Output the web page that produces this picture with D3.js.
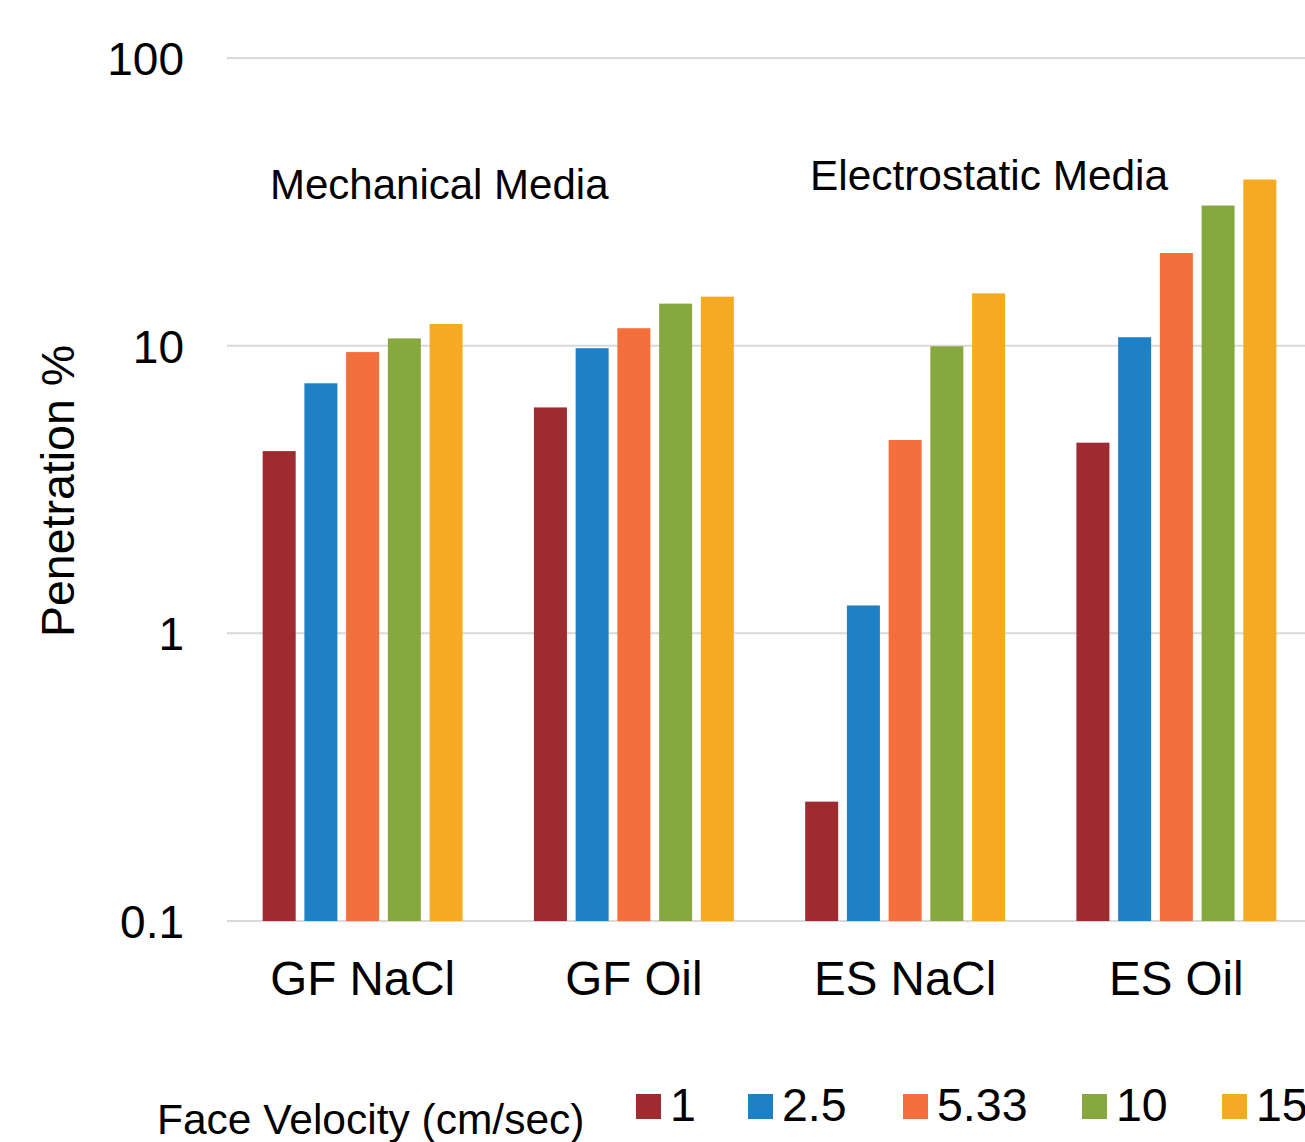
<!DOCTYPE html>
<html>
<head>
<meta charset="utf-8">
<script src="https://cdn.jsdelivr.net/npm/d3@7"></script>
<style>
  html, body { margin: 0; padding: 0; background: #fff; overflow: hidden; }
  svg { display: block; font-family: "Liberation Sans", Arial, sans-serif; }
</style>
</head>
<body>
<svg id="chart" width="1305" height="1142"></svg>
<script>
// Filter media groups and test velocities
const categories = ["GF NaCl", "GF Oil", "ES NaCl", "ES Oil"];
const velocities = ["1", "2.5", "5.33", "10", "15"];
const colors = ["#9e2b30", "#1e80c5", "#f36f3c", "#87a83f", "#f6aa23"];

// Penetration % per velocity, one value per category
const v1    = [4.3, 6.1, 0.26, 4.6];
const v2_5  = [7.4, 9.8, 1.25, 10.7];
const v5_33 = [9.5, 11.5, 4.7, 21];
const v10   = [10.6, 14.0, 9.95, 30.7];
const v15   = [11.9, 14.8, 15.2, 37.8];
const seriesValues = [v1, v2_5, v5_33, v10, v15];

const yTicks = [0.1, 1, 10, 100];
const yTickLabels = ["0.1", "1", "10", "100"];
const groupNotes = [
  { text: "Mechanical Media", at: "GF NaCl" },
  { text: "Electrostatic Media", at: "ES NaCl" }
];
const legendTitle = "Face Velocity (cm/sec)";
const yTitle = "Penetration %";

const svg = d3.select("#chart");

const plot = { left: 227, right: 1312, top: 58, bottom: 921 };

const y = d3.scaleLog().domain([0.1, 100]).range([plot.bottom, plot.top]);

const x0 = d3.scaleBand()
  .domain(categories)
  .range([plot.left, plot.right])
  .paddingInner(0.263)
  .paddingOuter(0.1315);

const x1 = d3.scaleBand()
  .domain(velocities)
  .range([0, x0.bandwidth()])
  .paddingInner(0.209)
  .paddingOuter(0);

const color = d3.scaleOrdinal().domain(velocities).range(colors);

// Horizontal gridlines
svg.append("g")
  .selectAll("line")
  .data(yTicks)
  .join("line")
  .attr("x1", plot.left)
  .attr("x2", plot.right)
  .attr("y1", d => y(d))
  .attr("y2", d => y(d))
  .attr("stroke", "#d9d9d9")
  .attr("stroke-width", 2);

// Y axis tick labels
const yAxis = d3.axisLeft(y)
  .tickValues(yTicks)
  .tickFormat((d, i) => yTickLabels[i])
  .tickSize(0)
  .tickPadding(0);
const yG = svg.append("g")
  .attr("transform", `translate(184,0)`)
  .call(yAxis);
yG.select(".domain").remove();
yG.selectAll("text")
  .attr("font-size", 46)
  .attr("font-family", "Liberation Sans, Arial, sans-serif")
  .attr("fill", "#000")
  .attr("dy", "0.36em");

// Bars
const rows = categories.map((c, ci) => ({
  cat: c,
  vals: velocities.map((v, vi) => ({ vel: v, value: seriesValues[vi][ci] }))
}));

svg.append("g")
  .selectAll("g")
  .data(rows)
  .join("g")
  .attr("transform", d => `translate(${x0(d.cat)},0)`)
  .selectAll("rect")
  .data(d => d.vals)
  .join("rect")
  .attr("x", d => x1(d.vel))
  .attr("width", x1.bandwidth())
  .attr("y", d => y(d.value))
  .attr("height", d => y(0.1) - y(d.value))
  .attr("fill", d => color(d.vel));

// Category axis labels
const xAxis = d3.axisBottom(x0).tickSize(0).tickPadding(0);
const xG = svg.append("g")
  .attr("transform", `translate(0,${plot.bottom})`)
  .call(xAxis);
xG.select(".domain").remove();
xG.selectAll("text")
  .attr("font-size", 47.5)
  .attr("font-family", "Liberation Sans, Arial, sans-serif")
  .attr("fill", "#000")
  .attr("dy", null)
  .attr("y", 74);

// Media group notes
svg.append("text")
  .attr("x", 270).attr("y", 199)
  .attr("font-size", 42)
  .text(groupNotes[0].text);
svg.append("text")
  .attr("x", 810).attr("y", 190)
  .attr("font-size", 42.4)
  .text(groupNotes[1].text);

// Y axis title
svg.append("text")
  .attr("transform", "translate(74,491) rotate(-90)")
  .attr("text-anchor", "middle")
  .attr("font-size", 46.5)
  .text(yTitle);

// Legend
svg.append("text")
  .attr("x", 157).attr("y", 1134)
  .attr("font-size", 42.5)
  .text(legendTitle);

const legendX = [636, 748, 903, 1082, 1222];
const leg = svg.append("g")
  .selectAll("g")
  .data(velocities)
  .join("g")
  .attr("transform", (d, i) => `translate(${legendX[i]},1094)`);
leg.append("rect")
  .attr("width", 25).attr("height", 25)
  .attr("fill", d => color(d));
leg.append("text")
  .attr("x", 34).attr("y", 27)
  .attr("font-size", 46.5)
  .text(d => d);
</script>
</body>
</html>
